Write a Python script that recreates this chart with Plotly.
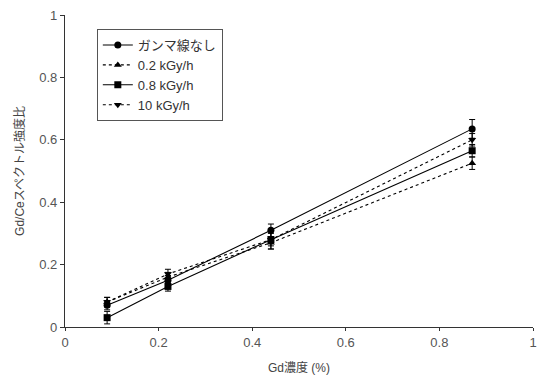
import plotly.graph_objects as go

x_conc = [0.09, 0.22, 0.44, 0.87]
series_names = ["ガンマ線なし", "0.2 kGy/h", "0.8 kGy/h", "10 kGy/h"]
y_none = [0.07, 0.15, 0.31, 0.635]
y_02 = [0.08, 0.16, 0.27, 0.525]
y_08 = [0.03, 0.13, 0.28, 0.565]
y_10 = [0.08, 0.17, 0.28, 0.60]
err_none = [0.015, 0.015, 0.02, 0.03]
err_02 = [0.015, 0.015, 0.02, 0.02]
err_08 = [0.02, 0.015, 0.03, 0.02]
err_10 = [0.015, 0.015, 0.02, 0.02]

series_y = [y_none, y_02, y_08, y_10]
series_err = [err_none, err_02, err_08, err_10]
symbols = ["circle", "triangle-up", "square", "triangle-down"]
dashes = ["solid", "dot", "solid", "dot"]

font_main = "Liberation Sans, Noto Sans CJK JP, sans-serif"

fig = go.Figure()
for name, ys, es, sym, dash in zip(series_names, series_y, series_err, symbols, dashes):
    fig.add_trace(go.Scatter(
        x=x_conc, y=ys, name=name, mode="lines+markers",
        line=dict(color="black", width=1.1, dash=dash),
        marker=dict(symbol=sym, size=7, color="black"),
        error_y=dict(type="data", array=es, visible=True, color="black", thickness=1, width=3),
    ))

fig.update_layout(
    width=538, height=378,
    margin=dict(l=65, r=1, t=15, b=51),
    paper_bgcolor="white", plot_bgcolor="white",
    font=dict(family=font_main, size=13, color="#444"),
    showlegend=True,
    legend=dict(
        x=0.068, y=0.955, xanchor="left", yanchor="top",
        bordercolor="#555", borderwidth=1, bgcolor="white",
        font=dict(size=13, color="#333"),
        tracegroupgap=0, itemwidth=30,
    ),
    xaxis=dict(
        range=[0, 1], dtick=0.2, tick0=0,
        showline=True, linecolor="#333", linewidth=1.2,
        ticks="outside", ticklen=3, tickcolor="#333",
        showgrid=False, zeroline=False, ticklabeloverflow="allow",
        title=dict(text="Gd濃度 (%)", font=dict(size=12, color="#444"), standoff=14),
        tickfont=dict(size=13, color="#555"),
    ),
    yaxis=dict(
        range=[0, 1], dtick=0.2, tick0=0,
        showline=True, linecolor="#333", linewidth=1.2,
        ticks="outside", ticklen=4, tickcolor="#333",
        showgrid=False, zeroline=False,
        title=dict(text="Gd/Ceスペクトル強度比", font=dict(size=12, color="#444"), standoff=12),
        tickfont=dict(size=13, color="#555"),
    ),
)

fig.write_html("out.html")
